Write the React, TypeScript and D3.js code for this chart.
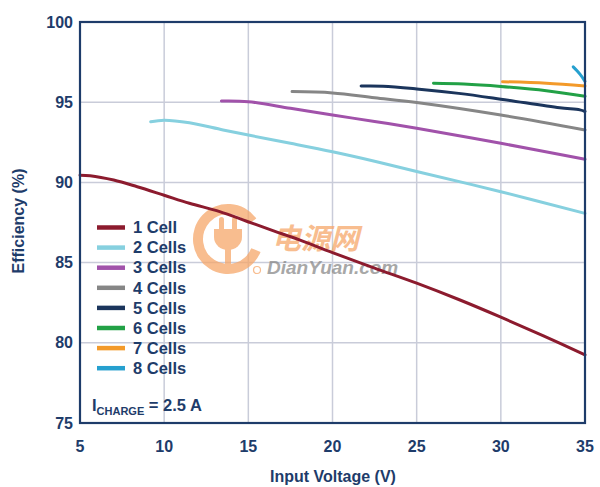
import React from 'react';
import * as d3 from 'd3';

// 시리즈 데이터 (입력 전압 V, 효율 %)
const cell1V = [5, 5.6, 7, 8.4, 10, 11.5, 13.3, 14.9, 16.5, 18, 20, 22.5, 25, 27.5, 30, 32.5, 35];
const cell1E = [90.45, 90.42, 90.15, 89.73, 89.2, 88.7, 88.18, 87.58, 86.98, 86.43, 85.62, 84.66, 83.72, 82.7, 81.6, 80.45, 79.25];
const cell2V = [9.2, 10, 11.5, 13.5, 15, 17.5, 20, 22.5, 25, 30, 35];
const cell2E = [93.78, 93.88, 93.72, 93.27, 92.95, 92.44, 91.91, 91.32, 90.68, 89.42, 88.07];
const cell3V = [13.4, 15, 17.5, 20, 22.5, 25, 30, 35];
const cell3E = [95.07, 95.03, 94.62, 94.2, 93.8, 93.37, 92.44, 91.44];
const cell4V = [17.6, 20, 22.5, 25, 30, 35];
const cell4E = [95.66, 95.58, 95.28, 94.98, 94.2, 93.27];
const cell5V = [21.7, 23, 25, 27.5, 30, 33.5, 34.7, 35];
const cell5E = [96.01, 96.0, 95.83, 95.55, 95.19, 94.65, 94.52, 94.42];
const cell6V = [26, 27.8, 30, 32.7, 35];
const cell6E = [96.18, 96.13, 95.98, 95.72, 95.37];
const cell7V = [30.1, 32.7, 35];
const cell7E = [96.28, 96.18, 96.01];
const cell8V = [34.3, 34.7, 35];
const cell8E = [97.2, 96.75, 96.3];

const seriesNames = ['1 Cell', '2 Cells', '3 Cells', '4 Cells', '5 Cells', '6 Cells', '7 Cells', '8 Cells'];
const seriesColors = ['#8c1b2e', '#86d0df', '#a152aa', '#868686', '#1b355c', '#22a146', '#f39a2a', '#26a0cf'];
const seriesV = [cell1V, cell2V, cell3V, cell4V, cell5V, cell6V, cell7V, cell8V];
const seriesE = [cell1E, cell2E, cell3E, cell4E, cell5E, cell6E, cell7E, cell8E];

const xTicks = [5, 10, 15, 20, 25, 30, 35];
const yTicks = [75, 80, 85, 90, 95, 100];

const W = 600;
const H = 487;
const margin = { top: 22, right: 15, bottom: 64, left: 80 };
const navy = '#1e3c6a';
const wmColor = '#f6a76a';
const font = '"Liberation Sans", Arial, sans-serif';

const App: React.FC = () => {
  const x = d3.scaleLinear().domain([5, 35]).range([margin.left, W - margin.right]);
  const y = d3.scaleLinear().domain([75, 100]).range([H - margin.bottom, margin.top]);

  const line = d3.line<[number, number]>()
    .x(d => x(d[0]))
    .y(d => y(d[1]))
    .curve(d3.curveCatmullRom.alpha(0.5));

  // 워터마크 링
  const ring = d3.arc()({ innerRadius: 25, outerRadius: 35, startAngle: Math.PI * 0.62, endAngle: Math.PI * 2.3 }) || '';
  const wmX = 228;
  const wmY = 239;

  return (
    <svg width={W} height={H} style={{ position: 'absolute', left: 0, top: 0, background: '#fff', fontFamily: font }}>
      {/* 그리드 */}
      <g stroke="#c9ccd9" strokeWidth={1.5}>
        {xTicks.slice(1, -1).map(t => (
          <line key={'gx' + t} x1={x(t)} x2={x(t)} y1={y(100)} y2={y(75)} />
        ))}
        {yTicks.slice(1, -1).map(t => (
          <line key={'gy' + t} x1={x(5)} x2={x(35)} y1={y(t)} y2={y(t)} />
        ))}
      </g>

      {/* 워터마크 */}
      <g opacity={0.75}>
        <path d={ring} transform={`translate(${wmX},${wmY})`} fill={wmColor} />
        <rect x={wmX - 9} y={wmY - 22} width={5} height={14} rx={2.5} fill={wmColor} />
        <rect x={wmX + 4} y={wmY - 22} width={5} height={14} rx={2.5} fill={wmColor} />
        <path d={`M${wmX - 14},${wmY - 10} h28 v8 a14,13 0 0 1 -28,0 z`} fill={wmColor} />
        <rect x={wmX - 3} y={wmY + 8} width={6} height={20} fill={wmColor} />
        <text x={272} y={249} fontSize={29} fontWeight="bold" fontStyle="italic" fill={wmColor}
          fontFamily='"Noto Sans CJK SC", sans-serif'>电源网</text>
        <circle cx={257} cy={270} r={3.5} fill="none" stroke={wmColor} strokeWidth={1.2} />
        <text x={267} y={274} fontSize={19} fontWeight="bold" fontStyle="italic" fill="#8a8a8a">DianYuan.com</text>
      </g>

      {/* 곡선 */}
      {seriesV.map((vs, i) => (
        <path key={seriesNames[i]}
          d={line(vs.map((v, j) => [v, seriesE[i][j]] as [number, number])) || ''}
          fill="none" stroke={seriesColors[i]} strokeWidth={3} strokeLinecap="round" />
      ))}

      {/* 프레임 */}
      <rect x={x(5)} y={y(100)} width={x(35) - x(5)} height={y(75) - y(100)}
        fill="none" stroke={navy} strokeWidth={2.2} />

      {/* 축 라벨 */}
      <g fill={navy} fontWeight="bold" fontSize={16}>
        {yTicks.map(t => (
          <text key={'ty' + t} x={73} y={y(t)} dy="0.35em" textAnchor="end">{t}</text>
        ))}
        {xTicks.map(t => (
          <text key={'tx' + t} x={x(t)} y={446} dy="0.35em" textAnchor="middle">{t}</text>
        ))}
        <text x={333} y={476} dy="0.35em" textAnchor="middle">Input Voltage (V)</text>
        <text transform={`translate(18,221) rotate(-90)`} dy="0.35em" textAnchor="middle">Efficiency (%)</text>
      </g>

      {/* 범례 */}
      <g fontWeight="bold" fontSize={16.5} fill={navy}>
        {seriesNames.map((n, i) => (
          <g key={'lg' + n} transform={`translate(0,${227.5 + i * 20.1})`}>
            <line x1={97} x2={125} y1={0} y2={0} stroke={seriesColors[i]} strokeWidth={4.5} />
            <text x={133} y={0} dy="0.35em">{n}</text>
          </g>
        ))}
        <text x={92} y={411}>
          I<tspan fontSize={11} dy={4}>CHARGE</tspan><tspan dy={-4}> = 2.5 A</tspan>
        </text>
      </g>
    </svg>
  );
};

export default App;
